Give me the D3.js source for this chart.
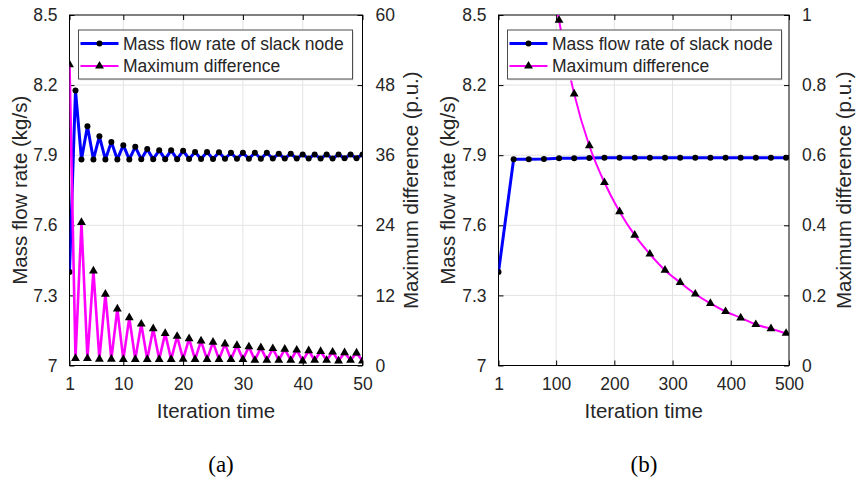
<!DOCTYPE html>
<html>
<head>
<meta charset="utf-8">
<script src="https://cdn.jsdelivr.net/npm/d3@7"></script>
<style>
  html, body { margin: 0; padding: 0; background: #fff; }
  svg { display: block; }
  text { font-family: "Liberation Sans", Arial, Helvetica, sans-serif; fill: #262626; }
  text.tag { font-family: "Liberation Serif", "Times New Roman", serif; fill: #000; }
</style>
</head>
<body>
<svg id="fig" width="857" height="479"></svg>
<script>
// ---------- Panel (a): first 50 iterations ----------
const iterA = [1,2,3,4,5,6,7,8,9,10,11,12,13,14,15,16,17,18,19,20,21,22,23,24,25,
               26,27,28,29,30,31,32,33,34,35,36,37,38,39,40,41,42,43,44,45,46,47,48,49,50];
const flowA = [7.400,8.177,7.882,8.024,7.882,7.981,7.882,7.957,7.882,7.943,
               7.882,7.936,7.883,7.926,7.883,7.921,7.883,7.921,7.883,7.919,
               7.884,7.914,7.884,7.914,7.884,7.913,7.885,7.910,7.885,7.910,
               7.885,7.910,7.885,7.910,7.886,7.906,7.886,7.906,7.886,7.903,
               7.886,7.903,7.886,7.903,7.886,7.903,7.887,7.903,7.887,7.903];
const diffA = [51.5,1.2,24.5,1.2,16.2,1.1,12.2,1.1,9.7,1.05,
               8.2,1.05,7.1,1.05,6.3,1.05,5.5,1.05,5.0,1.1,
               4.6,1.05,4.2,1.05,4.0,1.05,3.7,1.05,3.45,1.05,
               3.2,0.9,3.05,0.9,2.9,0.9,2.8,0.9,2.65,0.8,
               2.55,0.9,2.4,0.9,2.3,0.8,2.2,0.9,2.15,0.8];

// ---------- Panel (b): 500 iterations, sampled every 26 ----------
const iterB = [1,27,53,79,105,131,157,183,209,235,261,287,313,339,365,391,417,443,469,495,500];
const flowB = [7.400,7.883,7.883,7.884,7.887,7.887,7.888,7.889,7.889,7.889,7.889,
               7.889,7.889,7.889,7.889,7.889,7.889,7.889,7.889,7.889,7.889];
const iterDiffB = [79,105,131,157,183,209,235,261,287,313,339,365,391,417,443,469,495,500];
const diffB = [1.275,0.985,0.775,0.627,0.522,0.439,0.372,0.318,0.272,0.237,
               0.204,0.177,0.154,0.136,0.117,0.105,0.092,0.090];

// ---------- Axis ticks and labels ----------
const xTicksA = [1,10,20,30,40,50];
const xTicksB = [1,100,200,300,400,500];
const yLeftTicks = [7,7.3,7.6,7.9,8.2,8.5];
const yLeftLabels = ["7","7.3","7.6","7.9","8.2","8.5"];
const yRightTicksA = [0,12,24,36,48,60];
const yRightTicksB = [0,0.2,0.4,0.6,0.8,1];
const yRightLabelsB = ["0","0.2","0.4","0.6","0.8","1"];
const legendLabels = ["Mass flow rate of slack node", "Maximum difference"];
const panelTags = ["(a)", "(b)"];
const xTitle = "Iteration time";
const yLeftTitle = "Mass flow rate (kg/s)";
const yRightTitle = "Maximum difference (p.u.)";

const BLUE = "#0000ff", MAGENTA = "#ff00ff";
const svg = d3.select("#fig");
const plotTop = 15, plotBottom = 365.5;

function panel(cfg, idx) {
  const g = svg.append("g");
  const x = d3.scaleLinear().domain(cfg.xDomain).range([cfg.x0, cfg.x1]);
  const yL = d3.scaleLinear().domain([7, 8.5]).range([plotBottom, plotTop]);
  const yR = d3.scaleLinear().domain(cfg.yRDomain).range([plotBottom, plotTop]);

  const clipId = "clip" + idx;
  g.append("clipPath").attr("id", clipId)
    .append("rect").attr("x", cfg.x0).attr("y", plotTop)
    .attr("width", cfg.x1 - cfg.x0).attr("height", plotBottom - plotTop);

  // grid
  const grid = g.append("g").attr("stroke", "#e3e3e3").attr("stroke-width", 1);
  grid.selectAll("line.gx").data(cfg.xTicks.slice(1, -1)).join("line")
    .attr("x1", d => x(d)).attr("x2", d => x(d)).attr("y1", plotTop).attr("y2", plotBottom);
  grid.selectAll("line.gy").data(yLeftTicks.slice(1, -1)).join("line")
    .attr("x1", cfg.x0).attr("x2", cfg.x1).attr("y1", d => yL(d)).attr("y2", d => yL(d));

  // axes via d3 axis generators (inward ticks)
  const axStyle = sel => {
    sel.select(".domain").remove();
    sel.selectAll("line").attr("stroke", "#000");
    sel.selectAll("text").style("font-size", "17.5px").style("fill", "#262626");
  };
  g.append("g").attr("transform", `translate(0,${plotBottom})`)
    .call(d3.axisBottom(x).tickValues(cfg.xTicks).tickSize(-5).tickPadding(12).tickFormat(d3.format("d")))
    .call(axStyle);
  g.append("g").attr("transform", `translate(0,${plotTop})`)
    .call(d3.axisTop(x).tickValues(cfg.xTicks).tickSize(-5).tickFormat(""))
    .call(axStyle);
  g.append("g").attr("transform", `translate(${cfg.x0},0)`)
    .call(d3.axisLeft(yL).tickValues(yLeftTicks).tickSize(-5).tickPadding(12)
      .tickFormat((d, i) => yLeftLabels[i]))
    .call(axStyle);
  g.append("g").attr("transform", `translate(${cfg.x1},0)`)
    .call(d3.axisRight(yR).tickValues(cfg.yRTicks).tickSize(-5).tickPadding(13)
      .tickFormat((d, i) => cfg.yRLabels[i]))
    .call(axStyle);

  // box
  g.append("rect").attr("x", cfg.x0).attr("y", plotTop)
    .attr("width", cfg.x1 - cfg.x0).attr("height", plotBottom - plotTop)
    .attr("fill", "none").attr("stroke", "#000").attr("stroke-width", 1);

  const plot = g.append("g").attr("clip-path", `url(#${clipId})`);

  // mass flow rate (left axis)
  const flowPts = cfg.flowX.map((d, i) => [d, cfg.flowY[i]]);
  plot.append("path").datum(flowPts)
    .attr("d", d3.line().x(d => x(d[0])).y(d => yL(d[1])))
    .attr("fill", "none").attr("stroke", BLUE).attr("stroke-width", 3)
    .attr("stroke-linejoin", "round");
  plot.selectAll("circle.m").data(flowPts.filter(d => cfg.markerX(d[0]))).join("circle")
    .attr("cx", d => x(d[0])).attr("cy", d => yL(d[1])).attr("r", 3).attr("fill", "#000");

  // maximum difference (right axis)
  const diffPts = cfg.diffX.map((d, i) => [d, cfg.diffY[i]]);
  plot.append("path").datum(diffPts)
    .attr("d", d3.line().curve(cfg.curve).x(d => x(d[0])).y(d => yR(d[1])))
    .attr("fill", "none").attr("stroke", MAGENTA).attr("stroke-width", cfg.diffWidth)
    .attr("stroke-linejoin", "round");
  const tri = d3.symbol().type(d3.symbolTriangle).size(34);
  plot.selectAll("path.t").data(diffPts.filter(d => cfg.markerX(d[0]))).join("path")
    .attr("transform", d => `translate(${x(d[0])},${yR(d[1])})`)
    .attr("d", tri).attr("fill", "#000");

  // legend
  const lg = g.append("g").attr("transform", `translate(${cfg.x0 + 9},30)`);
  lg.append("rect").attr("x", 1.5).attr("y", 1.5).attr("width", 274).attr("height", 49)
    .attr("fill", "#e8e8e8");
  lg.append("rect").attr("width", 274).attr("height", 49)
    .attr("fill", "#fff").attr("stroke", "#4d4d4d").attr("stroke-width", 1);
  const rows = [
    {y: 13.5, color: BLUE, w: 3, mark: "c"},
    {y: 36, color: MAGENTA, w: 2.2, mark: "t"}
  ];
  rows.forEach((r, i) => {
    lg.append("line").attr("x1", 2).attr("x2", 40).attr("y1", r.y).attr("y2", r.y)
      .attr("stroke", r.color).attr("stroke-width", r.w);
    if (r.mark === "c") {
      lg.append("circle").attr("cx", 21).attr("cy", r.y).attr("r", 3).attr("fill", "#000");
    } else {
      lg.append("path").attr("transform", `translate(21,${r.y})`).attr("d", tri).attr("fill", "#000");
    }
    lg.append("text").attr("x", 44.5).attr("y", r.y + 6).style("font-size", "17.5px")
      .text(legendLabels[i]);
  });

  // axis titles
  g.append("text").attr("x", (cfg.x0 + cfg.x1) / 2).attr("y", 418)
    .attr("text-anchor", "middle").style("font-size", "20.5px").text(xTitle);
  g.append("text").attr("transform", `translate(${cfg.yLTitleX},${(plotTop + plotBottom) / 2}) rotate(-90)`)
    .attr("text-anchor", "middle").style("font-size", "20.5px").text(yLeftTitle);
  g.append("text").attr("transform", `translate(${cfg.yRTitleX},${(plotTop + plotBottom) / 2}) rotate(-90)`)
    .attr("text-anchor", "middle").style("font-size", "20.5px").text(yRightTitle);

  // panel tag
  g.append("text").attr("class", "tag").attr("x", cfg.tagX).attr("y", 472)
    .attr("text-anchor", "middle").style("font-size", "23px").text(panelTags[idx]);
}

panel({
  x0: 69.5, x1: 362.5, xDomain: [1, 50], xTicks: xTicksA,
  yRDomain: [0, 60], yRTicks: yRightTicksA, yRLabels: yRightTicksA.map(String),
  flowX: iterA, flowY: flowA, diffX: iterA, diffY: diffA,
  markerX: () => true, curve: d3.curveLinear, diffWidth: 2.6,
  yLTitleX: 27, yRTitleX: 418, tagX: 221
}, 0);

panel({
  x0: 498.5, x1: 789, xDomain: [1, 500], xTicks: xTicksB,
  yRDomain: [0, 1], yRTicks: yRightTicksB, yRLabels: yRightLabelsB,
  flowX: iterB, flowY: flowB, diffX: iterDiffB, diffY: diffB,
  markerX: d => d !== 500, curve: d3.curveMonotoneX, diffWidth: 2,
  yLTitleX: 455, yRTitleX: 851, tagX: 644
}, 1);
</script>
</body>
</html>
